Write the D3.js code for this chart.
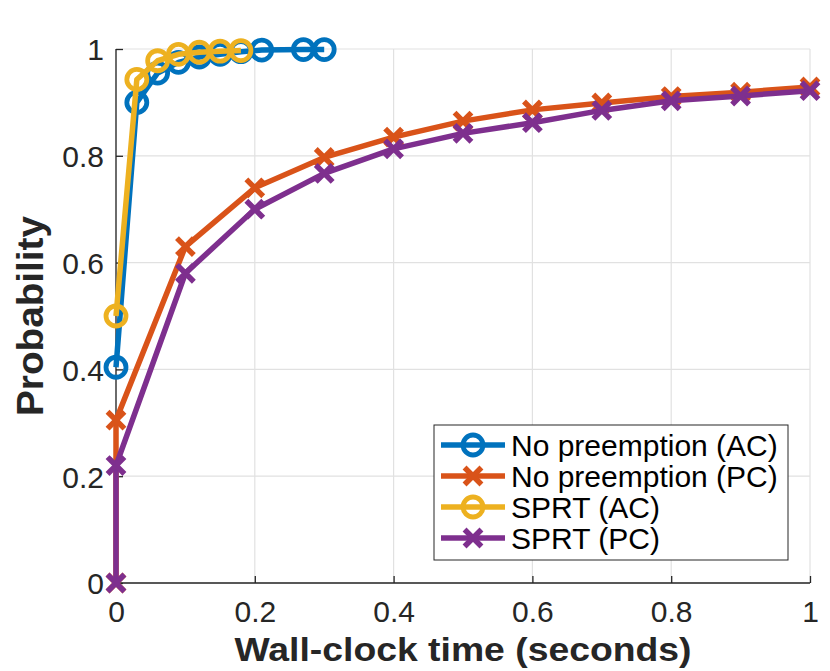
<!DOCTYPE html>
<html>
<head>
<meta charset="utf-8">
<script src="https://cdn.jsdelivr.net/npm/d3@7"></script>
<style>
  html, body { margin: 0; padding: 0; background: #fff; }
  svg { display: block; font-family: "Liberation Sans", Arial, Helvetica, sans-serif; }
</style>
</head>
<body>
<div id="chart"></div>
<script>
// ---- data ----
const seriesNames = ["No preemption (AC)", "No preemption (PC)", "SPRT (AC)", "SPRT (PC)"];
const seriesColors = ["#0072BD", "#D95319", "#EDB120", "#7E2F8E"];
const seriesMarkers = ["circle", "cross", "circle", "cross"];

const noPreAC_x = [0, 0.03, 0.06, 0.09, 0.12, 0.15, 0.18, 0.21, 0.27, 0.30];
const noPreAC_y = [0.404, 0.90, 0.955, 0.975, 0.985, 0.99, 0.995, 0.998, 0.999, 0.999];

const noPrePC_x = [0, 0, 0.1, 0.2, 0.3, 0.4, 0.5, 0.6, 0.7, 0.8, 0.9, 1.0];
const noPrePC_y = [0, 0.305, 0.63, 0.74, 0.797, 0.835, 0.865, 0.886, 0.899, 0.911, 0.919, 0.929];

const sprtAC_x = [0, 0.03, 0.06, 0.09, 0.12, 0.15, 0.18];
const sprtAC_y = [0.5, 0.943, 0.978, 0.99, 0.994, 0.996, 0.997];

const sprtPC_x = [0, 0, 0.1, 0.2, 0.3, 0.4, 0.5, 0.6, 0.7, 0.8, 0.9, 1.0];
const sprtPC_y = [0, 0.22, 0.58, 0.70, 0.767, 0.813, 0.842, 0.862, 0.885, 0.903, 0.912, 0.922];

const xTicks = [0, 0.2, 0.4, 0.6, 0.8, 1];
const yTicks = [0, 0.2, 0.4, 0.6, 0.8, 1];
const xLabel = "Wall-clock time (seconds)";
const yLabel = "Probability";

const series = [
  { xs: noPreAC_x, ys: noPreAC_y },
  { xs: noPrePC_x, ys: noPrePC_y },
  { xs: sprtAC_x, ys: sprtAC_y },
  { xs: sprtPC_x, ys: sprtPC_y }
].map((s, i) => ({
  name: seriesNames[i], color: seriesColors[i], marker: seriesMarkers[i],
  pts: s.xs.map((x, j) => [x, s.ys[j]])
}));

// ---- layout ----
const W = 830, H = 671;
const m = { left: 116, right: 20, top: 49, bottom: 88 };
const iw = W - m.left - m.right, ih = H - m.top - m.bottom;
const axisColor = "#262626";

const svg = d3.select("#chart").append("svg").attr("width", W).attr("height", H);
const g = svg.append("g").attr("transform", `translate(${m.left},${m.top})`);

const x = d3.scaleLinear().domain([0, 1]).range([0, iw]);
const y = d3.scaleLinear().domain([0, 1]).range([ih, 0]);

// grid
g.append("g").selectAll("line.gx").data(xTicks).join("line")
  .attr("x1", d => x(d)).attr("x2", d => x(d)).attr("y1", 0).attr("y2", ih)
  .attr("stroke", "#e1e1e1").attr("stroke-width", 1.2);
g.append("g").selectAll("line.gy").data(yTicks).join("line")
  .attr("y1", d => y(d)).attr("y2", d => y(d)).attr("x1", 0).attr("x2", iw)
  .attr("stroke", "#e1e1e1").attr("stroke-width", 1.2);

// axes
const xAxis = d3.axisBottom(x).tickValues(xTicks).tickSize(-7).tickPadding(18)
  .tickFormat(d => d3.format("")(d));
const yAxis = d3.axisLeft(y).tickValues(yTicks).tickSize(-7).tickPadding(12)
  .tickFormat(d => d3.format("")(d));

const gx = g.append("g").attr("transform", `translate(0,${ih})`).call(xAxis);
const gy = g.append("g").call(yAxis);
[gx, gy].forEach(a => {
  a.select(".domain").attr("stroke", axisColor).attr("stroke-width", 1.3)
   .attr("d", a === gx ? `M0,0H${iw}` : `M0,${ih}V0`);
  a.selectAll(".tick line").attr("stroke", axisColor).attr("stroke-width", 1.3);
  a.selectAll(".tick text").attr("fill", axisColor).attr("font-size", 30)
   .attr("font-family", "Liberation Sans, Arial, sans-serif");
});
gy.selectAll(".tick text").attr("dy", "0.36em");

// lines
const line = d3.line().x(d => x(d[0])).y(d => y(d[1]));
const crossPath = (s) => `M${-s},${-s}L${s},${s}M${-s},${s}L${s},${-s}`;

function drawMarker(sel, type, color) {
  if (type === "circle") {
    sel.append("circle").attr("r", 10).attr("fill", "none")
      .attr("stroke", color).attr("stroke-width", 4.8);
  } else {
    sel.append("path").attr("d", crossPath(6.5)).attr("fill", "none")
      .attr("stroke", color).attr("stroke-width", 5.5).attr("stroke-linecap", "square");
  }
}

series.forEach(s => {
  const sg = g.append("g");
  sg.append("path").datum(s.pts).attr("d", line).attr("fill", "none")
    .attr("stroke", s.color).attr("stroke-width", 5.5).attr("stroke-linejoin", "round");
  sg.selectAll("g.mk").data(s.pts).join("g")
    .attr("transform", d => `translate(${x(d[0])},${y(d[1])})`)
    .each(function () { drawMarker(d3.select(this), s.marker, s.color); });
});

// axis labels
svg.append("text").text(xLabel)
  .attr("x", m.left + iw / 2).attr("y", 661)
  .attr("text-anchor", "middle").attr("font-weight", "bold").attr("font-size", 34)
  .attr("fill", axisColor).attr("textLength", 457).attr("lengthAdjust", "spacingAndGlyphs");
svg.append("text").text(yLabel)
  .attr("transform", `translate(43,${m.top + ih / 2}) rotate(-90)`)
  .attr("text-anchor", "middle").attr("font-weight", "bold").attr("font-size", 36)
  .attr("fill", axisColor).attr("textLength", 200).attr("lengthAdjust", "spacingAndGlyphs");

// legend
const lg = svg.append("g").attr("transform", "translate(434,425)");
lg.append("rect").attr("width", 354).attr("height", 135)
  .attr("fill", "#fff").attr("stroke", axisColor).attr("stroke-width", 1);
series.forEach((s, i) => {
  const row = lg.append("g").attr("transform", `translate(0,${20 + i * 31})`);
  row.append("line").attr("x1", 7).attr("x2", 71).attr("y1", 0).attr("y2", 0)
    .attr("stroke", s.color).attr("stroke-width", 5.5);
  drawMarker(row.append("g").attr("transform", "translate(39,0)"), s.marker, s.color);
  row.append("text").text(s.name).attr("x", 77).attr("dy", "0.36em")
    .attr("font-size", 30).attr("fill", "#000");
});
</script>
</body>
</html>
